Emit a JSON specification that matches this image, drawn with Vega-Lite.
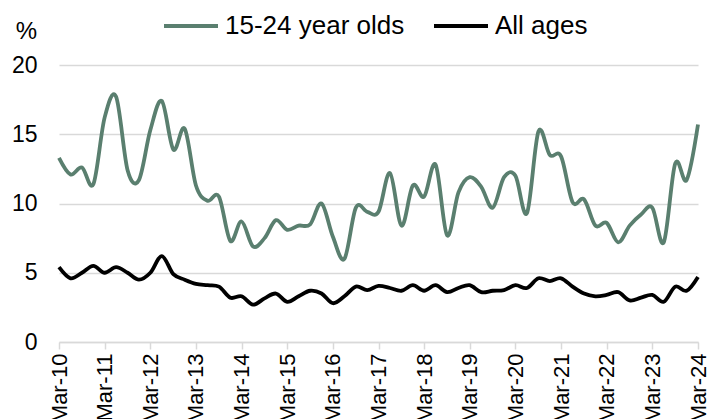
{
  "$schema": "https://vega.github.io/schema/vega-lite/v6.json",
  "autosize": {"type": "none"},
  "width": 639,
  "height": 277,
  "padding": {"left": 59, "top": 65, "right": 21, "bottom": 77},
  "background": "white",
  "config": {
    "view": {"stroke": null},
    "font": "Liberation Sans",
    "axis": {"labelFont": "Liberation Sans", "titleFont": "Liberation Sans", "labelColor": "#000000"},
    "legend": {"labelFont": "Liberation Sans"}
  },
  "data": {
    "values": [
      {"date": "2010/03/01", "youth": 13.3, "all": 5.4},
      {"date": "2010/06/01", "youth": 12.1, "all": 4.6},
      {"date": "2010/09/01", "youth": 12.6, "all": 5.0},
      {"date": "2010/12/01", "youth": 11.4, "all": 5.5},
      {"date": "2011/03/01", "youth": 16.2, "all": 5.0},
      {"date": "2011/06/01", "youth": 17.7, "all": 5.4},
      {"date": "2011/09/01", "youth": 12.4, "all": 5.0},
      {"date": "2011/12/01", "youth": 11.7, "all": 4.5},
      {"date": "2012/03/01", "youth": 15.3, "all": 5.0},
      {"date": "2012/06/01", "youth": 17.4, "all": 6.2},
      {"date": "2012/09/01", "youth": 13.9, "all": 4.9},
      {"date": "2012/12/01", "youth": 15.4, "all": 4.5},
      {"date": "2013/03/01", "youth": 11.3, "all": 4.2},
      {"date": "2013/06/01", "youth": 10.2, "all": 4.1},
      {"date": "2013/09/01", "youth": 10.5, "all": 4.0},
      {"date": "2013/12/01", "youth": 7.3, "all": 3.2},
      {"date": "2014/03/01", "youth": 8.7, "all": 3.3},
      {"date": "2014/06/01", "youth": 6.9, "all": 2.7},
      {"date": "2014/09/01", "youth": 7.5, "all": 3.15},
      {"date": "2014/12/01", "youth": 8.8, "all": 3.5},
      {"date": "2015/03/01", "youth": 8.1, "all": 2.9},
      {"date": "2015/06/01", "youth": 8.4, "all": 3.3},
      {"date": "2015/09/01", "youth": 8.5, "all": 3.7},
      {"date": "2015/12/01", "youth": 10.0, "all": 3.5},
      {"date": "2016/03/01", "youth": 7.6, "all": 2.8},
      {"date": "2016/06/01", "youth": 6.0, "all": 3.3},
      {"date": "2016/09/01", "youth": 9.7, "all": 4.0},
      {"date": "2016/12/01", "youth": 9.4, "all": 3.75},
      {"date": "2017/03/01", "youth": 9.4, "all": 4.05},
      {"date": "2017/06/01", "youth": 12.2, "all": 3.9},
      {"date": "2017/09/01", "youth": 8.4, "all": 3.7},
      {"date": "2017/12/01", "youth": 11.3, "all": 4.1},
      {"date": "2018/03/01", "youth": 10.5, "all": 3.7},
      {"date": "2018/06/01", "youth": 12.8, "all": 4.1},
      {"date": "2018/09/01", "youth": 7.7, "all": 3.6},
      {"date": "2018/12/01", "youth": 10.8, "all": 3.9},
      {"date": "2019/03/01", "youth": 11.9, "all": 4.1},
      {"date": "2019/06/01", "youth": 11.2, "all": 3.6},
      {"date": "2019/09/01", "youth": 9.7, "all": 3.7},
      {"date": "2019/12/01", "youth": 11.9, "all": 3.75},
      {"date": "2020/03/01", "youth": 12.0, "all": 4.1},
      {"date": "2020/06/01", "youth": 9.3, "all": 3.9},
      {"date": "2020/09/01", "youth": 15.2, "all": 4.6},
      {"date": "2020/12/01", "youth": 13.5, "all": 4.4},
      {"date": "2021/03/01", "youth": 13.4, "all": 4.6},
      {"date": "2021/06/01", "youth": 10.1, "all": 4.0},
      {"date": "2021/09/01", "youth": 10.3, "all": 3.5},
      {"date": "2021/12/01", "youth": 8.4, "all": 3.3},
      {"date": "2022/03/01", "youth": 8.6, "all": 3.4},
      {"date": "2022/06/01", "youth": 7.2, "all": 3.6},
      {"date": "2022/09/01", "youth": 8.4, "all": 3.0},
      {"date": "2022/12/01", "youth": 9.2, "all": 3.2},
      {"date": "2023/03/01", "youth": 9.7, "all": 3.4},
      {"date": "2023/06/01", "youth": 7.2, "all": 2.9},
      {"date": "2023/09/01", "youth": 12.9, "all": 4.0},
      {"date": "2023/12/01", "youth": 11.7, "all": 3.7},
      {"date": "2024/03/01", "youth": 15.7, "all": 4.7}
    ]
  },
  "transform": [
    {"fold": ["youth", "all"], "as": ["key", "value"]},
    {"lookup": "key", "from": {"data": {"values": [{"key": "youth", "series": "15-24 year olds"}, {"key": "all", "series": "All ages"}]}, "key": "key", "fields": ["series"]}}
  ],
  "mark": {"type": "line", "interpolate": "cardinal", "strokeWidth": 3.8},
  "encoding": {
    "x": {
      "field": "date",
      "type": "temporal",
      "scale": {"domain": [{"year": 2010, "month": 3, "date": 1}, {"year": 2024, "month": 3, "date": 1}]},
      "axis": {
        "title": null,
        "values": [
          {"year": 2010, "month": 3, "date": 1}, {"year": 2011, "month": 3, "date": 1}, {"year": 2012, "month": 3, "date": 1},
          {"year": 2013, "month": 3, "date": 1}, {"year": 2014, "month": 3, "date": 1}, {"year": 2015, "month": 3, "date": 1},
          {"year": 2016, "month": 3, "date": 1}, {"year": 2017, "month": 3, "date": 1}, {"year": 2018, "month": 3, "date": 1},
          {"year": 2019, "month": 3, "date": 1}, {"year": 2020, "month": 3, "date": 1}, {"year": 2021, "month": 3, "date": 1},
          {"year": 2022, "month": 3, "date": 1}, {"year": 2023, "month": 3, "date": 1}, {"year": 2024, "month": 3, "date": 1}
        ],
        "format": "%b-%y",
        "labelAngle": -90,
        "labelFontSize": 22,
        "labelPadding": 4,
        "labelOverlap": false,
        "labelFlush": false,
        "grid": false,
        "domainColor": "#d9d9d9",
        "domainWidth": 1.5,
        "tickColor": "#d9d9d9",
        "tickWidth": 1.5,
        "tickSize": 7
      }
    },
    "y": {
      "field": "value",
      "type": "quantitative",
      "scale": {"domain": [0, 20]},
      "axis": {
        "values": [0, 5, 10, 15, 20],
        "title": "%",
        "titleAngle": 0,
        "titleAlign": "center",
        "titleBaseline": "alphabetic",
        "titleX": -33,
        "titleY": -27,
        "titleFontSize": 24,
        "titleFontWeight": "normal",
        "titleColor": "#000000",
        "labelFontSize": 23,
        "labelPadding": 22,
        "ticks": false,
        "domain": false,
        "grid": true,
        "gridColor": "#d9d9d9",
        "gridWidth": 1.5
      }
    },
    "color": {
      "field": "series",
      "type": "nominal",
      "scale": {"domain": ["15-24 year olds", "All ages"], "range": ["#5a7f6f", "#000000"]},
      "legend": {
        "title": null,
        "orient": "none",
        "direction": "horizontal",
        "legendX": 103,
        "legendY": -68,
        "symbolType": "stroke",
        "symbolSize": 2916,
        "symbolStrokeWidth": 4,
        "labelFontSize": 26,
        "labelLimit": 0,
        "labelColor": "#000000",
        "labelOffset": 5,
        "columnPadding": 21,
        "padding": 0
      }
    }
  }
}
